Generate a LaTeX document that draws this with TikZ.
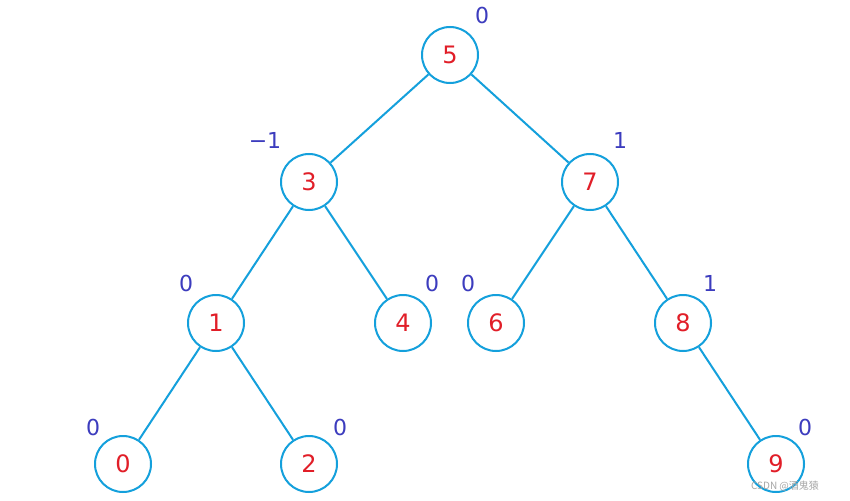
\documentclass[tikz,border=0pt]{standalone}
\usepackage{fontspec}
\setmainfont{DejaVu Sans}
\newfontfamily\cjk{Noto Sans CJK SC}
\definecolor{cb}{RGB}{20,160,220}
\definecolor{tr}{RGB}{225,30,40}
\definecolor{lb}{RGB}{60,60,190}
\begin{document}
\begin{tikzpicture}[x=1pt,y=-1pt]
\tikzset{tn/.style={circle,draw=cb,line width=2pt,fill=white,minimum size=56pt,inner sep=0pt,text=tr,font=\fontsize{24}{24}\selectfont},
 bf/.style={text=lb,font=\fontsize{22}{22}\selectfont},
 ed/.style={draw=cb,line width=2pt}}
\fill[white] (0,0) rectangle (850,500);
\node[tn] (n5) at (450,55) {5};
\node[tn] (n3) at (309,182) {3};
\node[tn] (n7) at (590,182) {7};
\node[tn] (n1) at (216,323) {1};
\node[tn] (n4) at (403,323) {4};
\node[tn] (n6) at (496,323) {6};
\node[tn] (n8) at (683,323) {8};
\node[tn] (n0) at (123,464) {0};
\node[tn] (n2) at (309,464) {2};
\node[tn] (n9) at (776,464) {9};
\foreach \a/\b in {n5/n3,n5/n7,n3/n1,n3/n4,n7/n6,n7/n8,n1/n0,n1/n2,n8/n9}
  \draw[ed] (\a) -- (\b);
\node[bf] (b5) at (482,15) {0};
\node[bf] (b3) at (265,140) {−1};
\node[bf] (b7) at (620,140) {1};
\node[bf] (b1) at (186,283) {0};
\node[bf] (b4) at (432,283) {0};
\node[bf] (b6) at (468,283) {0};
\node[bf] (b8) at (710,283) {1};
\node[bf] (b0) at (93,427) {0};
\node[bf] (b2) at (340,427) {0};
\node[bf] (b9) at (805,427) {0};
\node[text=gray!70,font=\cjk\fontsize{10}{10}\selectfont] (wm) at (785,486) {CSDN @酒鬼猿};
\end{tikzpicture}
\end{document}
